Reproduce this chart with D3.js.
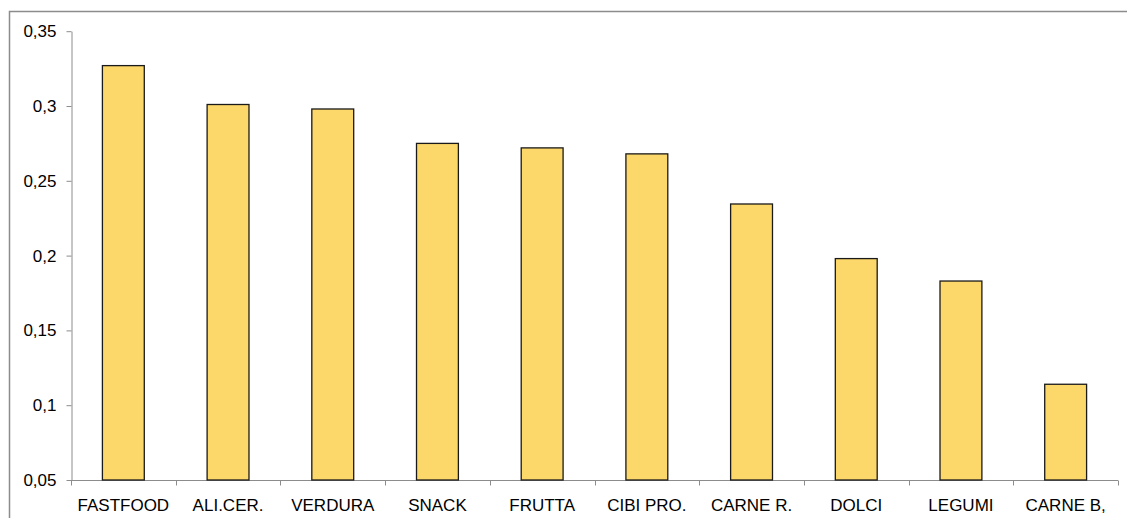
<!DOCTYPE html>
<html>
<head>
<meta charset="utf-8">
<script src="https://cdn.jsdelivr.net/npm/d3@7"></script>
<style>
  html, body { margin: 0; padding: 0; background: #fff; }
  svg { display: block; }
</style>
</head>
<body>
<svg id="chart" width="1127" height="518"></svg>
<script>
// Food categories and their scores
const categories = ["FASTFOOD", "ALI.CER.", "VERDURA", "SNACK", "FRUTTA", "CIBI PRO.", "CARNE R.", "DOLCI", "LEGUMI", "CARNE B,"];
const values = [0.327, 0.301, 0.298, 0.275, 0.272, 0.268, 0.2345, 0.198, 0.183, 0.114];
const yTicks = [0.05, 0.1, 0.15, 0.2, 0.25, 0.3, 0.35];

const svg = d3.select("#chart");
const W = 1127, H = 518;
const fontFamily = "'Liberation Sans', Arial, sans-serif";
const fontSize = 17;
const axisColor = "#8c8c8c";

// Outer frame
svg.append("rect")
  .attr("x", 9.5).attr("y", 11.5)
  .attr("width", W + 20).attr("height", H + 20)
  .attr("fill", "none")
  .attr("stroke", axisColor)
  .attr("stroke-width", 1.5);

const x = d3.scaleBand()
  .domain(categories)
  .range([71, 1118])
  .paddingInner(0.6)
  .paddingOuter(0.3);

const y = d3.scaleLinear()
  .domain([0.05, 0.35])
  .range([480, 31.2]);

const fmt = d => d3.format("~g")(d).replace(".", ",");

// Y axis
const yAxis = svg.append("g")
  .attr("transform", "translate(71.5,0)")
  .call(d3.axisLeft(y).tickValues(yTicks).tickFormat(fmt).tickSize(5).tickPadding(10).tickSizeOuter(0));
yAxis.select(".domain").attr("stroke", axisColor);
yAxis.selectAll(".tick line").attr("stroke", axisColor);
yAxis.selectAll(".tick text")
  .attr("font-family", fontFamily)
  .attr("font-size", fontSize)
  .attr("fill", "#000");

// X axis: baseline with ticks on the category boundaries
const [x0, x1] = x.range();
const slot = (x1 - x0) / categories.length;
const bounds = d3.range(categories.length + 1).map(i => x0 + i * slot);

const xAxisG = svg.append("g").attr("transform", "translate(0,480.5)");
xAxisG.append("line")
  .attr("x1", x0).attr("x2", x1)
  .attr("stroke", axisColor);
xAxisG.selectAll("line.tick")
  .data(bounds)
  .join("line")
  .attr("class", "tick")
  .attr("x1", d => Math.round(d) + 0.5).attr("x2", d => Math.round(d) + 0.5)
  .attr("y1", 0).attr("y2", 5)
  .attr("stroke", axisColor);
xAxisG.selectAll("text")
  .data(categories)
  .join("text")
  .attr("x", d => x(d) + x.bandwidth() / 2)
  .attr("y", 30)
  .attr("text-anchor", "middle")
  .attr("font-family", fontFamily)
  .attr("font-size", fontSize)
  .attr("fill", "#000")
  .text(d => d);

// Bars
svg.append("g")
  .selectAll("rect")
  .data(categories.map((c, i) => ({ c, v: values[i] })))
  .join("rect")
  .attr("x", d => x(d.c))
  .attr("y", d => y(d.v))
  .attr("width", x.bandwidth())
  .attr("height", d => y(0.05) - y(d.v))
  .attr("fill", "#fcd76a")
  .attr("stroke", "#1a1a1a")
  .attr("stroke-width", 1.3);
</script>
</body>
</html>
